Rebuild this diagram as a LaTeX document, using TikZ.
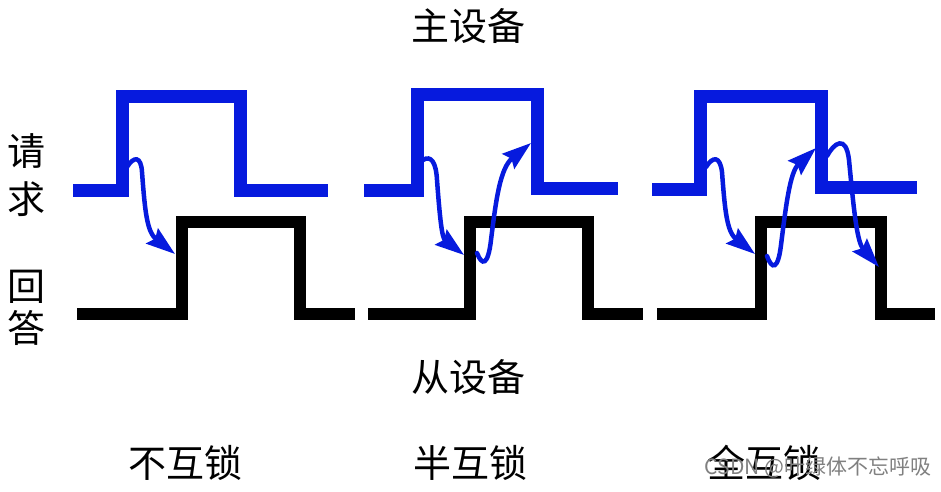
\documentclass[tikz,border=0pt]{standalone}
\usepackage{fontspec}
\newfontfamily\cjk{Noto Sans CJK SC}
\usetikzlibrary{arrows.meta}
\definecolor{sigblue}{RGB}{6,26,222}
\definecolor{wmgray}{RGB}{128,128,128}
\begin{document}
\begin{tikzpicture}[x=1pt,y=-1pt,
  reqsig/.style={draw=sigblue, line width=13pt, line join=miter, line cap=butt},
  ackssig/.style={draw=black, line width=12pt, line join=miter, line cap=butt},
  handarrow/.style={draw=sigblue, line width=4.5pt, line cap=round,
     -{Stealth[length=29pt,width=19pt,inset=4pt]}},
  lbl/.style={inner sep=0pt, font=\cjk\fontsize{38pt}{40pt}\selectfont},
  wm/.style={inner sep=0pt, text=wmgray, font=\cjk\fontsize{21pt}{23pt}\selectfont}]
\useasboundingbox (0,0) rectangle (941,491);

% labels
\node[lbl] (master) at (468,26) {主设备};
\node[lbl] (slave) at (468,377) {从设备};
\node[lbl] (qing) at (27,151) {请};
\node[lbl] (qiu) at (27,199) {求};
\node[lbl] (hui) at (27,287) {回};
\node[lbl] (da) at (27,328) {答};
\node[lbl] (nolock) at (185,463) {不互锁};
\node[lbl] (halflock) at (470,463) {半互锁};
\node[lbl] (fulllock) at (764,463) {全互锁};

% panel 1 signals
\draw[reqsig] (73,190.5) -- (122,190.5) -- (122,96.5) -- (240.5,96.5) -- (240.5,190.5) -- (328,190.5);
\draw[ackssig] (77,314) -- (181.5,314) -- (181.5,221.5) -- (300,221.5) -- (300,314) -- (355,314);
% panel 2 signals
\draw[reqsig] (364,190) -- (417.5,190) -- (417.5,94.5) -- (537,94.5) -- (537,188) -- (618,188);
\draw[ackssig] (368,314) -- (469.7,314) -- (469.7,221.7) -- (587.7,221.7) -- (587.7,314) -- (642.7,314);
% panel 3 signals
\draw[reqsig] (652,189.7) -- (700.8,189.7) -- (700.8,96.3) -- (821,96.3) -- (821,187) -- (917,187);
\draw[ackssig] (657,314) -- (760.8,314) -- (760.8,222) -- (880.8,222) -- (880.8,314) -- (935,314);

% arrow end points
\coordinate (a1s) at (127,167);
\coordinate (a1e) at (175,254);
\coordinate (b1s) at (423,160);
\coordinate (b1e) at (464,255);
\coordinate (b2s) at (477,253);
\coordinate (b2e) at (531,143);
\coordinate (c1s) at (706,167);
\coordinate (c1e) at (755,254);
\coordinate (c2s) at (767,256);
\coordinate (c2e) at (816,148);
\coordinate (c3s) at (827,156);
\coordinate (c3e) at (879,267);

% handshake arrows
\draw[handarrow] (a1s) .. controls (134,156) and (141,156) .. (142,172)
   .. controls (145,212) and (147,232) .. (a1e);
\draw[handarrow] (b1s) .. controls (431,155) and (436,162) .. (437,180)
   .. controls (440,220) and (442,238) .. (b1e);
\draw[handarrow] (b2s) .. controls (482,266) and (488,266) .. (491,240)
   .. controls (496,200) and (500,168) .. (b2e);
\draw[handarrow] (c1s) .. controls (713,156) and (720,156) .. (722,172)
   .. controls (725,212) and (727,232) .. (c1e);
\draw[handarrow] (c2s) .. controls (772,270) and (778,270) .. (781,245)
   .. controls (786,205) and (790,172) .. (c2e);
\draw[handarrow] (c3s) .. controls (834,143) and (846,134) .. (849,160)
   .. controls (854,212) and (857,242) .. (c3e);

% watermark
\node[wm] (mark) at (818,467) {CSDN @叶绿体不忘呼吸};
\end{tikzpicture}
\end{document}
